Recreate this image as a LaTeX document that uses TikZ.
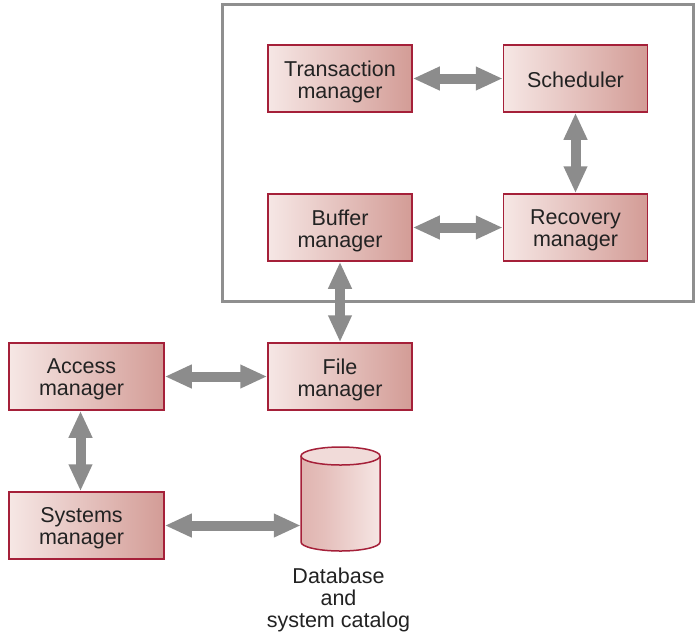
\documentclass[tikz,border=0pt]{standalone}
\usepackage{fontspec}
\setmainfont{Liberation Sans}
\usetikzlibrary{arrows.meta}
\definecolor{boxborder}{HTML}{A52039}
\definecolor{boxleft}{HTML}{F6E7E5}
\definecolor{boxright}{HTML}{D39C96}
\definecolor{arrgray}{HTML}{8C8C8C}
\definecolor{framegray}{HTML}{8F8F8F}
\definecolor{txt}{HTML}{222222}
\definecolor{cylA}{HTML}{D7A09B}
\definecolor{cylB}{HTML}{F6E6E4}
\definecolor{cylC}{HTML}{DBA7A2}
\pgfdeclarehorizontalshading{cylshade}{100bp}{color(0bp)=(cylA); color(40bp)=(cylA!55!cylB); color(75bp)=(cylB); color(100bp)=(cylC)}
\tikzset{
  compbox/.style={draw=boxborder, line width=1.5pt, left color=boxleft, right color=boxright,
    minimum width=144pt, minimum height=67pt, inner sep=0pt},
  lbl/.style={align=center, text=txt, font=\fontsize{21.5}{22}\selectfont, inner sep=0pt},
  boxtext/.style={label={[lbl, yshift=-3pt]center:#1}},
  boxtextone/.style={label={[lbl, yshift=-1.5pt]center:#1}},
  dblarrow/.style={draw=arrgray, line width=10pt,
    {Triangle[length=27pt,width=22pt]}-{Triangle[length=27pt,width=22pt]}}
}
\begin{document}
\begin{tikzpicture}[x=1pt,y=-1pt]
\useasboundingbox (0,0) rectangle (700,638);
% outer frame
\draw[framegray, line width=3pt] (222,4) rectangle (693,301);
% boxes
\node[compbox, boxtext={Transaction\\manager}] (tm)  at (340,78.5) {};
\node[compbox, boxtextone={Scheduler}] (sch) at (575.5,78.5) {};
\node[compbox, boxtext={Buffer\\manager}] (buf) at (340,227.5) {};
\node[compbox, boxtext={Recovery\\manager}] (rec) at (575.5,227.5) {};
\node[compbox, boxtext={File\\manager}] (fm)  at (340,376.5) {};
\node[compbox, minimum width=155pt, label={[lbl, yshift=-3pt, xshift=-5pt]center:Access\\manager}] (am) at (86.5,376.5) {};
\node[compbox, minimum width=155pt, label={[lbl, yshift=-3pt, xshift=-5pt]center:Systems\\manager}] (sm) at (86.5,525.5) {};
% database cylinder
\path[shading=cylshade] (301,456) -- (301,542)
  arc[start angle=180, end angle=0, x radius=39.5, y radius=9] -- (380,456)
  arc[start angle=0, end angle=-180, x radius=39.5, y radius=9] -- cycle;
\draw[boxborder, line width=1.5pt] (301,456) -- (301,542)
  arc[start angle=180, end angle=0, x radius=39.5, y radius=9] -- (380,456);
\draw[boxborder, line width=1.5pt, fill=cylB!85!cylA] (340.5,456) ellipse[x radius=39.5, y radius=9];
\node[minimum width=79pt, minimum height=104pt, inner sep=0pt] (db) at (340.5,499) {};
\node[lbl] (dblabel) at (338.5,600) {Database\\and\\system catalog};
% connectors
\draw[dblarrow] (tm.east) -- (sch.west);
\draw[dblarrow] (sch.south) -- (rec.north);
\draw[dblarrow] (buf.east) -- (rec.west);
\draw[dblarrow] (buf.south) -- (fm.north);
\draw[dblarrow] (am.east) -- (fm.west);
\draw[dblarrow] ([xshift=-6pt]am.south) -- ([xshift=-6pt]sm.north);
\draw[dblarrow] (sm.east) -- (sm.east -| db.west);
\end{tikzpicture}
\end{document}
